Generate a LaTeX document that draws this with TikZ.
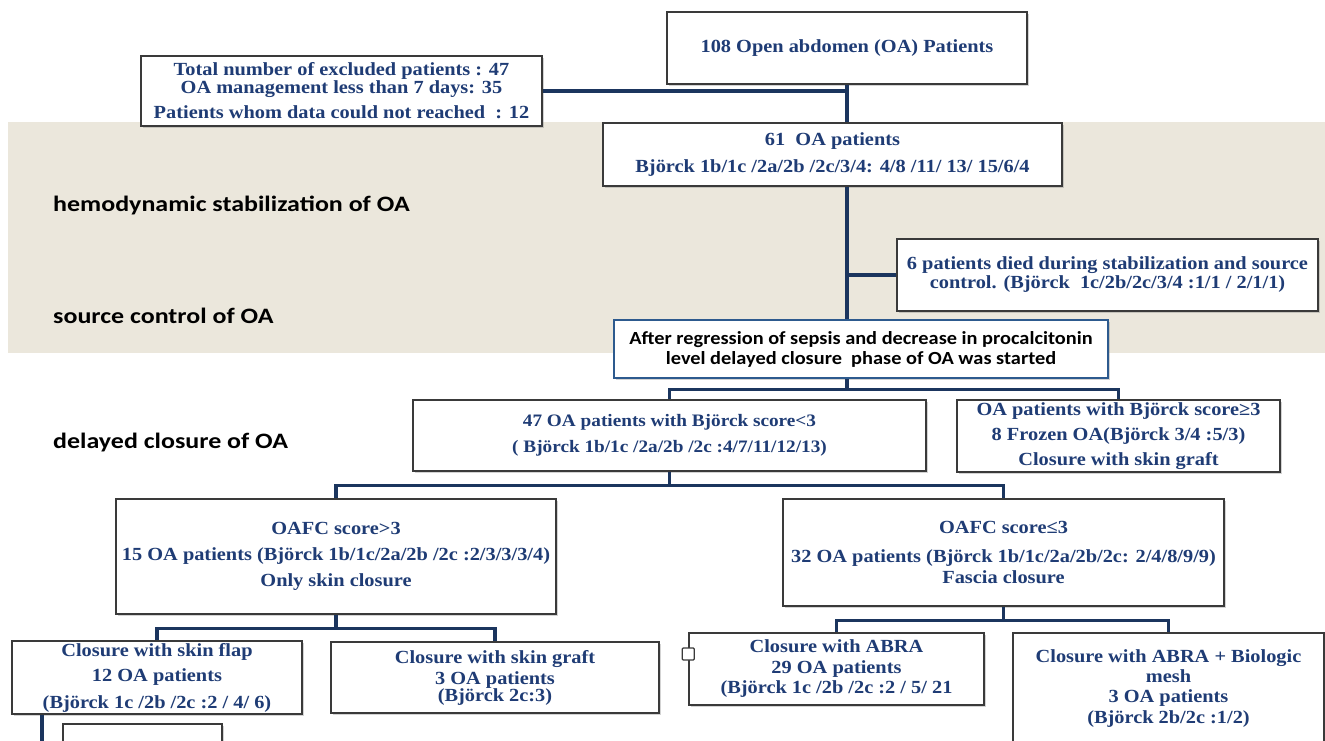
\documentclass[tikz,border=0pt]{standalone}
\usepackage{fontspec}
\setmainfont{Liberation Serif}
\newfontfamily\oawide[FakeStretch=1.1]{Liberation Serif}
\newfontfamily\oasans[FakeStretch=1.1]{Carlito}
\newfontfamily\oasanswide[FakeStretch=1.18]{Carlito}
\usetikzlibrary{shadows}

\definecolor{oanavy}{HTML}{1F3C75}
\definecolor{linknavy}{HTML}{1B355E}
\definecolor{boxgray}{HTML}{3A3A3A}
\definecolor{bandbeige}{HTML}{EBE7DC}
\definecolor{regrblue}{HTML}{2D5A8E}

\tikzset{
  box/.style={draw=boxgray, line width=1.6pt, fill=white, align=center,
    inner sep=2pt, text=oanavy, anchor=center,
    font=\oawide\bfseries\fontsize{18.5}{20}\selectfont,
    drop shadow={shadow xshift=2pt, shadow yshift=-2pt, opacity=0.35}},
  link/.style={draw=linknavy, line width=3.2pt},
  phase/.style={anchor=west, inner sep=0pt, font=\oasanswide\bfseries\fontsize{22}{24}\selectfont}
}

\begin{document}
\begin{tikzpicture}[x=1pt,y=-1pt]
  \useasboundingbox (0,0) rectangle (1325,741);
  \fill[bandbeige] (8,122) rectangle (1325,353);

  % phase labels
  \node[phase] (stab) at (53,205) {hemodynamic stabilization of OA};
  \node[phase] (source) at (53,316) {source control of OA};
  \node[phase] (delay) at (53,443) {delayed closure of OA};

  % boxes
  \node[box, minimum width=360, minimum height=72] (top108) at (847,48)
    {108 Open abdomen (OA) Patients};
  \node[box, minimum width=401, minimum height=70] (excl) at (341.5,91)
    {Total number of excluded patients : 47\\[-2pt]
     OA management less than 7 days: 35\\[5pt]
     Patients whom data could not reached~~: 12};
  \node[box, minimum width=459, minimum height=63] (p61) at (832.5,154.5)
    {61~~OA patients\\[7pt]
     Björck 1b/1c /2a/2b /2c/3/4: 4/8 /11/ 13/ 15/6/4};
  \node[box, minimum width=421, minimum height=72] (died) at (1107.5,275)
    {6 patients died during stabilization and source\\[-1pt]
     control. (Björck~~1c/2b/2c/3/4 :1/1 / 2/1/1)};
  \node[box, draw=regrblue, line width=2.6pt, minimum width=494, minimum height=58, text=black,
    font=\oasans\bfseries\fontsize{18.5}{20}\selectfont] (regr) at (861,349)
    {After regression of sepsis and decrease in procalcitonin\\
     level delayed closure~ phase of OA was started};
  \node[box, minimum width=513, minimum height=71,
    font=\oawide\bfseries\fontsize{17.5}{20}\selectfont] (low3) at (669.5,435.5)
    {47 OA patients with Björck score<3\\[6pt]
     ( Björck 1b/1c /2a/2b /2c :4/7/11/12/13)};
  \node[box, minimum width=323, minimum height=72] (high3) at (1118.5,436)
    {OA patients with Björck score≥3\\[5pt]
     8 Frozen OA(Björck 3/4 :5/3)\\[5pt]
     Closure with skin graft};
  \node[box, minimum width=440, minimum height=115] (oafcA) at (336,556.5)
    {OAFC score>3\\[6pt]
     15 OA patients (Björck 1b/1c/2a/2b /2c :2/3/3/3/4)\\[6pt]
     Only skin closure};
  \node[box, minimum width=441, minimum height=107] (oafcB) at (1003.5,552.5)
    {OAFC score≤3\\[9pt]
     32 OA patients (Björck 1b/1c/2a/2b/2c: 2/4/8/9/9)\\[1pt]
     Fascia closure};
  \node[box, minimum width=290, minimum height=71] (flap) at (157,677.5)
    {Closure with skin flap\\[5pt]
     12 OA patients\\[7pt]
     (Björck 1c /2b /2c :2 / 4/ 6)};
  \node[box, minimum width=328, minimum height=71] (graft) at (495,677.5)
    {Closure with skin graft\\[1pt]
     3 OA patients\\[-3pt]
     (Björck 2c:3)};
  \node[box, minimum width=295, minimum height=72] (abra) at (836.5,669)
    {Closure with ABRA\\[1pt]
     29 OA patients\\
     (Björck 1c /2b /2c :2 / 5/ 21};
  \node[box, minimum width=311, minimum height=112] (abrabio) at (1168.5,689)
    {Closure with ABRA + Biologic\\
     mesh\\
     3 OA patients\\[1pt]
     (Björck 2b/2c :1/2)};
  \node[box, minimum width=159, minimum height=56] (partial) at (142.5,752) {};
  \node[draw=boxgray, line width=1.2pt, fill=white, rounded corners=1pt,
    minimum size=12, inner sep=0pt] (abratab) at ([yshift=15pt]abra.west) {};

  % connectors
  \coordinate (trunk) at (847,0);
  \draw[link] (top108.south -| trunk) -- (p61.north -| trunk);
  \draw[link] (excl.east) -- (excl.east -| trunk);
  \draw[link] (p61.south -| trunk) -- (regr.north -| trunk);
  \draw[link] (died.west) -- (died.west -| trunk);
  \draw[link] (regr.south -| trunk) -- ++(0,10) -| (low3.north);
  \draw[link] (regr.south -| trunk) ++(0,10) -| (high3.north);
  \draw[link] (low3.south) -- ++(0,14) -| (oafcA.north);
  \draw[link] (low3.south) ++(0,14) -| (oafcB.north);
  \draw[link] (oafcA.south) -- ++(0,14) -| (flap.north);
  \draw[link] (oafcA.south) ++(0,14) -| (graft.north);
  \draw[link] (oafcB.south) -- ++(0,14) -| (abra.north);
  \draw[link] (oafcB.south) ++(0,14) -| (abrabio.north);
  \coordinate (flapend) at (42,760);
  \draw[link] (flap.south -| flapend) -- (flapend);
\end{tikzpicture}
\end{document}
